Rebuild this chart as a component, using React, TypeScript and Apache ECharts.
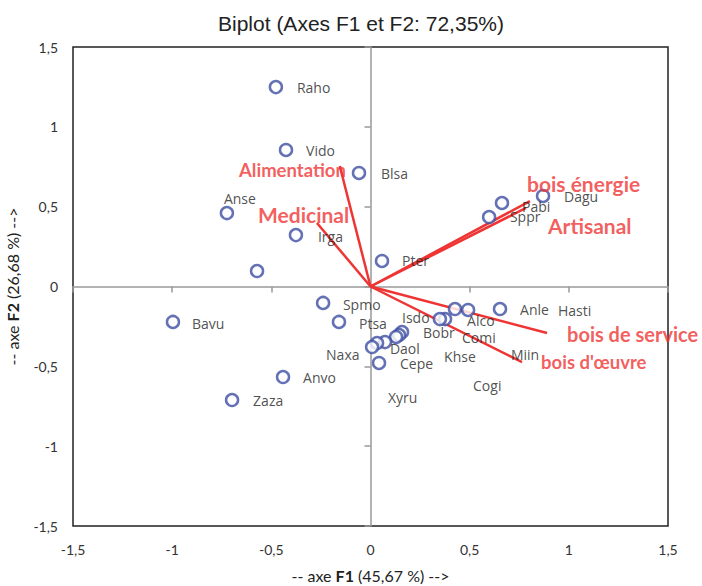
import React, { useEffect, useRef } from "react";
import * as echarts from "echarts";

// Observations (circles): [x, y]
const obsPoints: number[][] = [
  [-0.477, 1.249], [-0.426, 0.855], [-0.058, 0.711], [-0.724, 0.46], [-0.376, 0.322],
  [-0.572, 0.097], [0.058, 0.16], [0.87, 0.567], [0.663, 0.523], [0.598, 0.435],
  [-0.239, -0.103], [-0.159, -0.222], [-0.996, -0.222], [-0.441, -0.567], [-0.698, -0.711],
  [0.653, -0.141], [0.492, -0.147], [0.426, -0.141], [0.376, -0.204], [0.35, -0.204],
  [0.159, -0.285], [0.144, -0.304], [0.129, -0.316], [0.073, -0.348], [0.033, -0.354],
  [0.008, -0.379], [0.043, -0.479],
];

// Observation labels: name and anchor (left edge of text)
const obsNames: string[] = [
  "Raho", "Vido", "Blsa", "Anse", "Irga", "Pter", "Dagu", "Pabi", "Sppr", "Spmo",
  "Ptsa", "Bavu", "Anle", "Hasti", "Alco", "Isdo", "Bobr", "Comi", "Daol", "Naxa",
  "Khse", "Miin", "Cepe", "Anvo", "Zaza", "Cogi", "Xyru",
];
const obsLabelPos: number[][] = [
  [-0.371, 1.249], [-0.325, 0.849], [0.053, 0.705], [-0.739, 0.554], [-0.265, 0.316],
  [0.159, 0.16], [0.976, 0.561], [0.764, 0.504], [0.703, 0.436], [-0.139, -0.11],
  [-0.058, -0.229], [-0.9, -0.229], [0.754, -0.147], [0.945, -0.153], [0.487, -0.21],
  [0.159, -0.197], [0.265, -0.291], [0.461, -0.322], [0.098, -0.391], [-0.224, -0.429],
  [0.371, -0.441], [0.708, -0.429], [0.149, -0.485], [-0.34, -0.573], [-0.592, -0.711],
  [0.517, -0.617], [0.088, -0.698],
];

// Variables (vectors)
const varNames: string[] = [
  "Alimentation", "Medicinal", "bois énergie", "Artisanal", "bois de service", "bois d'œuvre",
];
const varEnds: number[][] = [
  [-0.155, 0.755], [-0.27, 0.398], [0.804, 0.535], [0.784, 0.492], [0.89, -0.291], [0.764, -0.473],
];
const varLabelPos: number[][] = [
  [-0.663, 0.73], [-0.567, 0.454], [0.789, 0.648], [0.895, 0.385], [0.991, -0.297], [0.86, -0.473],
];
// style: font size of each variable label
const varLabelFontSizes: number[] = [18.5, 21, 21, 21, 20, 18.5];

const axisMin = -1.5;
const axisMax = 1.5;
const axisStep = 0.5;

const RED = "#ef3434";
const BLUE = "#3d4fa3";
const LABEL_FONT = "Lato, 'Open Sans', sans-serif";
const OBS_FONT = "'Open Sans', Lato, sans-serif";

const fmt = (v: number) => String(v).replace(".", ",");

export default function App() {
  const ref = useRef<HTMLDivElement>(null);
  useEffect(() => {
    if (!ref.current) return;
    const chart = echarts.init(ref.current, undefined, { renderer: "svg" });

    const vectorSeries = varEnds.map((e, i) => ({
      type: "line",
      name: varNames[i],
      xAxisIndex: 0,
      yAxisIndex: 0,
      data: [[0, 0], e],
      symbol: "none",
      lineStyle: { color: RED, width: 2.5 },
      z: 3,
    }));

    const nameRich = {
      n: { fontSize: 16, color: "#222", fontFamily: LABEL_FONT },
      b: { fontSize: 16, color: "#222", fontWeight: "bold", fontFamily: LABEL_FONT },
    };

    const option: any = {
      animation: false,
      title: {
        text: "Biplot (Axes F1 et F2: 72,35%)",
        left: 356,
        top: 8,
        textAlign: "center",
        textStyle: {
          fontFamily: "'Liberation Sans', Arial, sans-serif",
          fontSize: 21,
          fontWeight: "normal",
          color: "#222",
        },
      },
      grid: {
        left: 73,
        right: 34,
        top: 47,
        bottom: 60,
        containLabel: false,
        outerBoundsMode: "none",
        show: true,
        borderColor: "#222",
        borderWidth: 1.5,
        backgroundColor: "transparent",
      },
      xAxis: [
        {
          type: "value",
          min: axisMin,
          max: axisMax,
          interval: axisStep,
          position: "bottom",
          axisLine: { show: false, onZero: false },
          axisTick: { show: false },
          splitLine: { show: false },
          axisLabel: {
            formatter: fmt,
            margin: 16,
            fontSize: 14,
            color: "#333",
            fontFamily: LABEL_FONT,
          },
          name: "{n|-- axe }{b|F1}{n| (45,67 %) -->}",
          nameLocation: "middle",
          nameGap: 41,
          nameTextStyle: { rich: nameRich },
        },
        {
          type: "value",
          min: axisMin,
          max: axisMax,
          interval: axisStep,
          position: "bottom",
          axisLine: { show: true, onZero: true, lineStyle: { color: "#999", width: 1.5 } },
          axisTick: { show: true, length: 6, lineStyle: { color: "#999", width: 1.5 } },
          axisLabel: { show: false },
          splitLine: { show: false },
        },
      ],
      yAxis: [
        {
          type: "value",
          min: axisMin,
          max: axisMax,
          interval: axisStep,
          position: "left",
          axisLine: { show: false, onZero: false },
          axisTick: { show: false },
          splitLine: { show: false },
          axisLabel: {
            formatter: fmt,
            margin: 15,
            fontSize: 14,
            color: "#333",
            fontFamily: LABEL_FONT,
          },
          name: "{n|-- axe }{b|F2}{n| (26,68 %) -->}",
          nameLocation: "middle",
          nameGap: 53,
          nameRotate: 90,
          nameTextStyle: { rich: nameRich },
        },
        {
          type: "value",
          min: axisMin,
          max: axisMax,
          interval: axisStep,
          position: "left",
          axisLine: { show: true, onZero: true, lineStyle: { color: "#999", width: 1.5 } },
          axisTick: { show: true, length: 6, lineStyle: { color: "#999", width: 1.5 } },
          axisLabel: { show: false },
          splitLine: { show: false },
        },
      ],
      series: [
        ...vectorSeries,
        {
          type: "scatter",
          name: "obs",
          xAxisIndex: 0,
          yAxisIndex: 0,
          data: obsPoints,
          symbol: "circle",
          symbolSize: 12,
          itemStyle: { color: "#fff", borderColor: BLUE, borderWidth: 2.5 },
          z: 4,
        },
        {
          type: "scatter",
          name: "obsLabels",
          xAxisIndex: 0,
          yAxisIndex: 0,
          data: obsLabelPos.map((p, i) => ({ value: p, name: obsNames[i] })),
          symbolSize: 0,
          silent: true,
          label: {
            show: true,
            position: "right",
            distance: 0,
            formatter: (p: any) => p.name,
            fontSize: 14,
            color: "#222",
            fontFamily: OBS_FONT,
          },
          z: 5,
        },
        {
          type: "scatter",
          name: "varLabels",
          xAxisIndex: 0,
          yAxisIndex: 0,
          data: varLabelPos.map((p, i) => ({
            value: p,
            name: varNames[i],
            label: { fontSize: varLabelFontSizes[i] },
          })),
          symbolSize: 0,
          silent: true,
          label: {
            show: true,
            position: "right",
            distance: 0,
            formatter: (p: any) => p.name,
            fontSize: 18,
            fontWeight: "bold",
            color: RED,
            fontFamily: LABEL_FONT,
          },
          z: 6,
        },
      ],
    };
    chart.setOption(option);
    return () => chart.dispose();
  }, []);

  return (
    <div
      ref={ref}
      style={{ position: "fixed", left: 0, top: 0, width: 702, height: 586, background: "#fff" }}
    />
  );
}
